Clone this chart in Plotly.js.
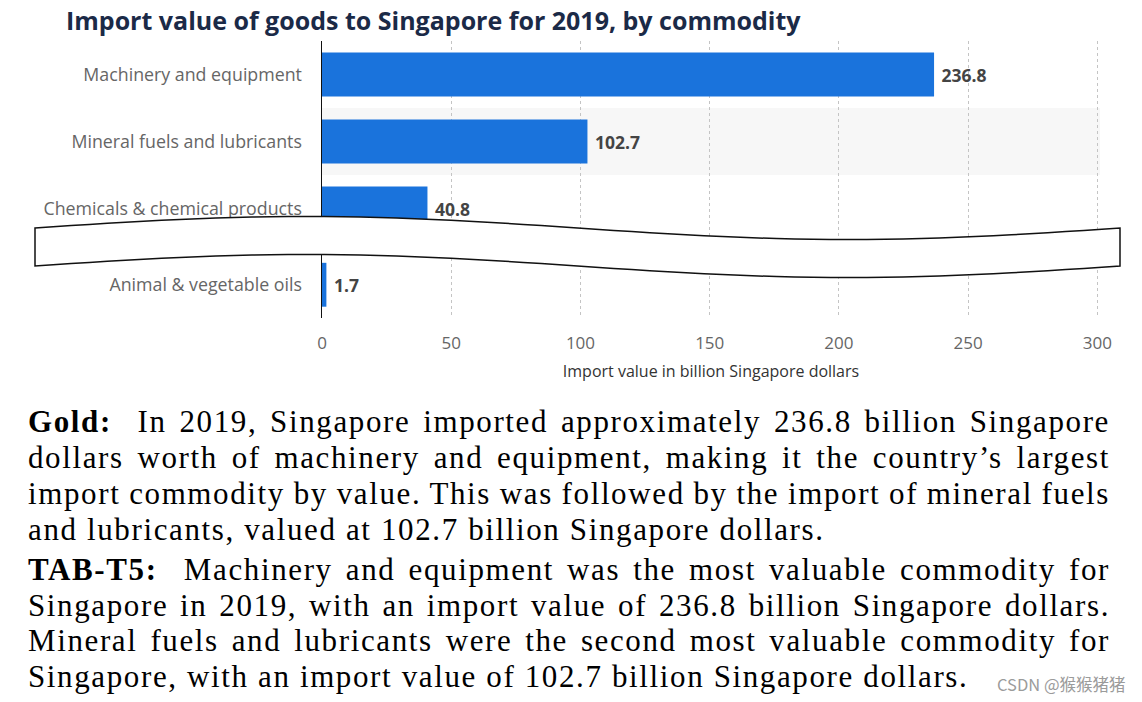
<!DOCTYPE html>
<html>
<head>
<meta charset="utf-8">
<script src="https://cdn.plot.ly/plotly-3.0.1.min.js"></script>
<style>
  html, body { margin: 0; padding: 0; background: #fff; }
  #chart { width: 1142px; height: 702px; }
</style>
</head>
<body>
<div id="chart"></div>
<script>
// ---- data ----
const categories = ['Machinery and equipment', 'Mineral fuels and lubricants', 'Chemicals & chemical products', 'Animal & vegetable oils'];
const values = [236.8, 102.7, 40.8, 1.7];
const xTickVals = [0, 50, 100, 150, 200, 250, 300];
const chartTitle = 'Import value of goods to Singapore for 2019, by commodity';
const xTitle = 'Import value in billion Singapore dollars';
const paragraph1 = [
  '<b>Gold:</b>\u00a0 In 2019, Singapore imported approximately 236.8 billion Singapore',
  'dollars worth of machinery and equipment, making it the country\u2019s largest',
  'import commodity by value. This was followed by the import of mineral fuels',
  'and lubricants, valued at 102.7 billion Singapore dollars.'
];
const paragraph2 = [
  '<b>TAB-T5:</b>\u00a0 Machinery and equipment was the most valuable commodity for',
  'Singapore in 2019, with an import value of 236.8 billion Singapore dollars.',
  'Mineral fuels and lubricants were the second most valuable commodity for',
  'Singapore, with an import value of 102.7 billion Singapore dollars.'
];
const watermark = 'CSDN @猴猴猪猪';

// ---- layout geometry (pixels) ----
const W = 1142, H = 702;
const M = { l: 322, r: 42, t: 41, b: 384 };
const PW = W - M.l - M.r, PH = H - M.t - M.b;
const px2x = X => (X - M.l) / PW;
const px2y = Y => (M.t + PH - Y) / PH;

const upperCats = categories.slice(0, 3), upperVals = values.slice(0, 3);
const lowerCats = categories.slice(3), lowerVals = values.slice(3);

const barColor = '#1a73dc';
const labelFont = { family: 'Open Sans', size: 17.5, color: '#444', weight: 700 };
const tickFont = { family: 'Open Sans', size: 17, color: '#666' };
const catFont = { family: 'Open Sans', size: 17.8, color: '#666' };

function barTrace(vals, cats, yaxis) {
  return {
    type: 'bar', orientation: 'h', x: vals, y: cats, yaxis: yaxis, xaxis: 'x',
    marker: { color: barColor, line: { width: 0 } },
    width: 0.66,
    text: vals.map(v => '\u00a0' + v.toFixed(1)),
    textposition: 'outside', textfont: labelFont, cliponaxis: false,
    hoverinfo: 'skip', showlegend: false
  };
}

// break shape path (decoration)
function breakPath() {
  const x0 = 35, x1 = 1120, per = x1 - x0;
  const topY = x => 228 - 11.5 * Math.sin(2 * Math.PI * (x - x0) / per);
  const pts = [];
  for (let i = 0; i <= 60; i++) pts.push(x0 + per * i / 60);
  let d = 'M ' + px2x(x0) + ',' + px2y(topY(x0));
  pts.forEach(x => { d += ' L ' + px2x(x) + ',' + px2y(topY(x)); });
  for (let i = pts.length - 1; i >= 0; i--) d += ' L ' + px2x(pts[i]) + ',' + px2y(topY(pts[i]) + 38);
  return d + ' Z';
}

const annotations = [];
const annMeta = {};
const textFont = { family: 'Liberation Serif', size: 31, color: '#000' };
function addPara(lines, firstY) {
  lines.forEach((t, i) => {
    annMeta[annotations.length] = { justify: i < lines.length - 1, para: true };
    annotations.push({
      xref: 'paper', yref: 'paper', x: px2x(26), y: px2y(firstY + 36 * i),
      xanchor: 'left', yanchor: 'middle', align: 'left', showarrow: false,
      text: t, font: textFont
    });
  });
}
addPara(paragraph1, 421);
addPara(paragraph2, 569);
annotations.push({
  xref: 'paper', yref: 'paper', x: px2x(1128), y: px2y(684), xanchor: 'right', yanchor: 'middle',
  showarrow: false, text: watermark, font: { family: 'Noto Sans CJK SC', size: 16.5, color: '#9b9b9b' }
});

const layout = {
  width: W, height: H, margin: M,
  paper_bgcolor: '#fff', plot_bgcolor: 'rgba(0,0,0,0)',
  title: {
    text: chartTitle, xref: 'container', yref: 'container',
    x: 66 / W, xanchor: 'left', y: 1 - 21 / H, yanchor: 'middle',
    font: { family: 'Open Sans', size: 25, color: '#1b2a47', weight: 700 }
  },
  xaxis: {
    anchor: 'y2', range: [0, 301], tickvals: xTickVals, ticktext: xTickVals.map(String),
    showgrid: true, gridcolor: '#c4c4c4', griddash: 'dot', gridwidth: 1,
    zeroline: false, showline: false, ticks: '', ticklabelstandoff: 13,
    tickfont: tickFont,
    title: { text: xTitle, standoff: 12, font: { family: 'Open Sans', size: 16, color: '#333' } }
  },
  yaxis: {
    type: 'category', categoryarray: upperCats, categoryorder: 'array', range: [2.5, -0.5],
    domain: [px2y(242), 1], anchor: 'x',
    showline: true, linecolor: '#111', linewidth: 1.5, showgrid: false, zeroline: false,
    ticks: '', ticklabelstandoff: 15, tickfont: catFont
  },
  yaxis2: {
    type: 'category', categoryarray: lowerCats, categoryorder: 'array', range: [0.5, -0.5],
    domain: [0, px2y(251.5)], anchor: 'x',
    showline: true, linecolor: '#111', linewidth: 1.5, showgrid: false, zeroline: false,
    ticks: '', ticklabelstandoff: 15, tickfont: catFont
  },
  shapes: [
    { type: 'rect', xref: 'paper', yref: 'y', x0: 0, x1: 1, y0: 0.5, y1: 1.5,
      fillcolor: '#f7f7f7', line: { width: 0 }, layer: 'below' },
    { type: 'path', xref: 'paper', yref: 'paper', path: breakPath(),
      fillcolor: '#ffffff', line: { color: '#111', width: 1.5 }, layer: 'above' }
  ],
  annotations: annotations
};

Plotly.newPlot('chart', [barTrace(upperVals, upperCats, 'y'), barTrace(lowerVals, lowerCats, 'y2')], layout,
  { displayModeBar: false, staticPlot: true }).then(gd => {
  // stretch paragraph text: letter spacing matched to last line of paragraph 1, justify full lines
  const groups = Array.from(gd.querySelectorAll('g.annotation'));
  const byIdx = {};
  groups.forEach(g => { byIdx[+g.getAttribute('data-index')] = g.querySelector('text.annotation-text'); });
  const ref = byIdx[3];
  if (!ref) return;
  const r0 = ref.getBoundingClientRect();
  const nChars = ref.textContent.length;
  const ls = Math.max(0, (823 - r0.right) / (nChars - 1));
  Object.keys(annMeta).forEach(k => {
    const t = byIdx[k]; if (!t) return;
    t.style.letterSpacing = ls + 'px';
  });
  Object.keys(annMeta).forEach(k => {
    const t = byIdx[k]; if (!t || !annMeta[k].justify) return;
    const r = t.getBoundingClientRect();
    const spaces = (t.textContent.match(/[ \u00a0]/g) || []).length;
    if (spaces > 0) t.style.wordSpacing = ((1110 - r.right) / spaces) + 'px';
  });
});
</script>
</body>
</html>
